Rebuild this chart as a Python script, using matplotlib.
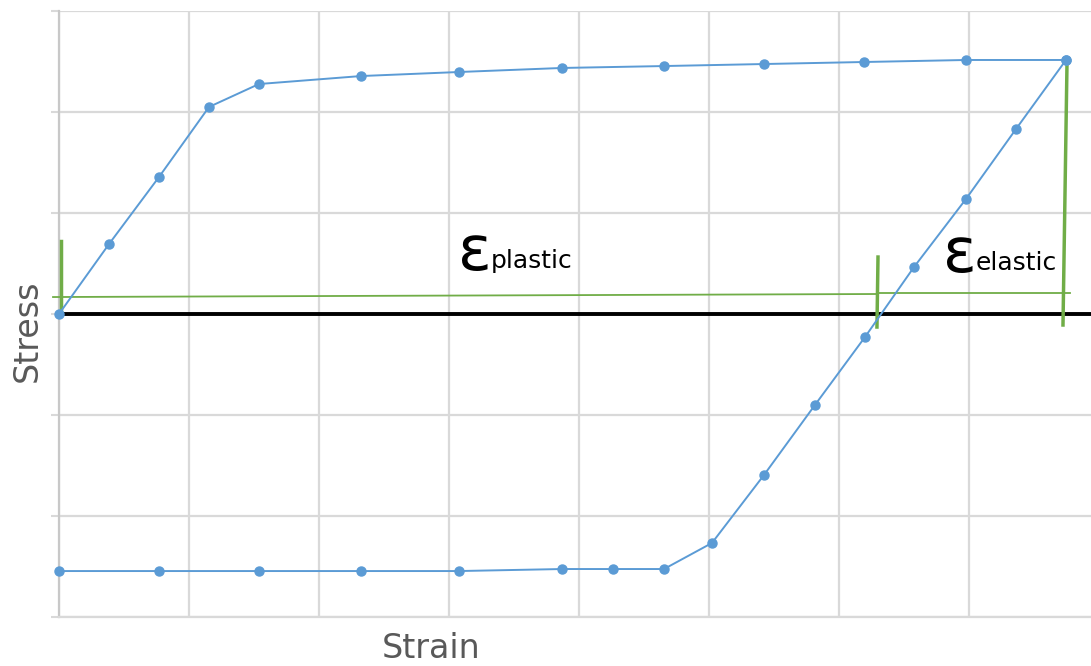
import matplotlib
matplotlib.use("Agg")
import matplotlib.pyplot as plt

# hysteresis loop: loading branch, then unloading / reverse loading back
load_strain = [0.0, 0.385, 0.769, 1.154, 1.538, 2.323, 3.077, 3.869, 4.654, 5.423, 6.192, 6.977, 7.746]
load_stress = [0.0, 0.693, 1.356, 2.050, 2.277, 2.356, 2.396, 2.436, 2.455, 2.475, 2.495, 2.515, 2.515]

unload_strain = [7.746, 7.362, 6.977, 6.577, 6.200, 5.815, 5.423, 5.023, 4.654, 4.262, 3.869, 3.077, 2.323, 1.538, 0.769, 0.0]
unload_stress = [2.515, 1.832, 1.139, 0.465, -0.228, -0.901, -1.594, -2.267, -2.525, -2.525, -2.525, -2.545, -2.545, -2.545, -2.545, -2.545]

# strain markers (hand-drawn style, slightly off-axis)
plastic_start = ([0.019, 0.019], [0.0, 0.723])
plastic_span = ([-0.046, 6.292], [0.168, 0.198])
elastic_span = ([6.300, 7.777], [0.208, 0.208])
split_mark = ([6.300, 6.292], [0.564, -0.129])
elastic_end = ([7.754, 7.723], [2.495, -0.109])

BLUE = "#5B9BD5"
GREEN = "#70AD47"
GRID = "#D9D9D9"
LABEL = "#595959"

fig = plt.figure(figsize=(10.91, 6.66), dpi=100)
ax = fig.add_axes([59 / 1091, 1 - 617 / 666, 1 - 59 / 1091, 606 / 666])
ax.set_xlim(0, 1032 / 130)
ax.set_ylim(-3, 3)

ax.set_xticks(range(0, 8))
ax.set_yticks(range(-3, 4))
ax.set_xticklabels([])
ax.set_yticklabels([])
ax.tick_params(axis="x", length=0)
ax.tick_params(axis="y", length=6, width=1.5, color=GRID)
ax.grid(True, color=GRID, linewidth=1.6, zorder=0)
ax.set_axisbelow(True)
for side in ("top", "right"):
    ax.spines[side].set_visible(False)
ax.spines["left"].set_color("#C8C8C8")
ax.spines["left"].set_linewidth(1.6)
ax.spines["bottom"].set_color(GRID)
ax.spines["bottom"].set_linewidth(1.6)

ax.axhline(0, color="black", linewidth=2.8, zorder=2)

for xs, ys in (plastic_span, elastic_span):
    ax.plot(xs, ys, color=GREEN, linewidth=1.3, zorder=3, clip_on=False)
for xs, ys in (plastic_start, split_mark, elastic_end):
    ax.plot(xs, ys, color=GREEN, linewidth=2.5, zorder=3, clip_on=False)

ax.plot(load_strain, load_stress, color=BLUE, linewidth=1.4, marker="o",
        markersize=6.5, zorder=4, clip_on=False)
ax.plot(unload_strain, unload_stress, color=BLUE, linewidth=1.4, marker="o",
        markersize=6.5, zorder=4, clip_on=False)

# epsilon labels with small subscript words
ax.text(3.07, 0.44, "\u03b5", fontsize=45, color="black", ha="left", va="baseline")
ax.text(3.32, 0.455, "plastic", fontsize=18, color="black", ha="left", va="baseline")
ax.text(6.80, 0.42, "\u03b5", fontsize=45, color="black", ha="left", va="baseline")
ax.text(7.05, 0.435, "elastic", fontsize=18, color="black", ha="left", va="baseline")

fig.text(431 / 1091, 1 - 649 / 666, "Strain", fontsize=24, color=LABEL,
         ha="center", va="center")
fig.text(27 / 1091, 1 - 331 / 666, "Stress", fontsize=24, color=LABEL,
         ha="center", va="center", rotation=90)

fig.savefig("out.png", dpi=100)
